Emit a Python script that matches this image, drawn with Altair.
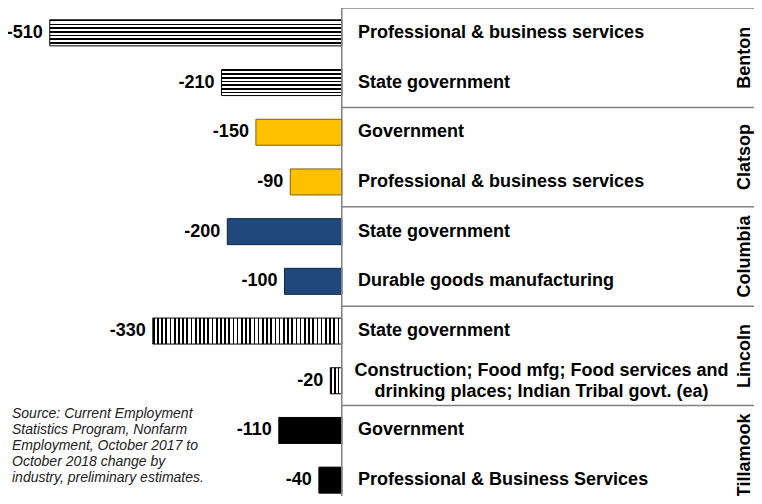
import altair as alt
import pandas as pd

counties = ["Benton", "Benton", "Clatsop", "Clatsop", "Columbia", "Columbia",
            "Lincoln", "Lincoln", "Tillamook", "Tillamook"]
industries = [
    "Professional & business services",
    "State government",
    "Government",
    "Professional & business services",
    "State government",
    "Durable goods manufacturing",
    "State government",
    "Construction; Food mfg; Food services and\ndrinking places; Indian Tribal govt. (ea)",
    "Government",
    "Professional & Business Services",
]
values = [-510, -210, -150, -90, -200, -100, -330, -20, -110, -40]
county_order = ["Benton", "Clatsop", "Columbia", "Lincoln", "Tillamook"]
source_text = ("Source: Current Employment\nStatistics Program, Nonfarm\n"
               "Employment, October 2017 to\nOctober 2018 change by\n"
               "industry, preliminary estimates.")

W, H = 746, 488
XDOM = [-583, 720]
PX_PER_UNIT = W / (XDOM[1] - XDOM[0])
ROW_PX = 49.7
FONT = "Liberation Sans"

df = pd.DataFrame({"county": counties, "industry": industries, "value": values})
df["pos"] = [i + 0.5 for i in range(len(df))]
df["label"] = [str(v) for v in values]
df["multi"] = [1 if "\n" in s else 0 for s in industries]

groups = pd.DataFrame({"county": county_order})
groups["center"] = [2 * i + 1 for i in range(len(county_order))]
groups["top"] = [2 * i for i in range(len(county_order))]
groups["base"] = 0

x_scale = alt.Scale(domain=XDOM, nice=False, padding=0, zero=False)
y_scale = alt.Scale(domain=[0, H / ROW_PX], reverse=True, nice=False, padding=0, zero=False)
X = alt.X("value:Q", scale=x_scale, axis=None)
Y = alt.Y("pos:Q", scale=y_scale, axis=None)


def stripes(n, horizontal, frac=0.42):
    stops = []
    for k in range(n):
        a = k / n
        b = (k + frac) / n
        c = (k + 1) / n
        stops += [{"offset": a, "color": "black"}, {"offset": b, "color": "black"},
                  {"offset": b, "color": "white"}, {"offset": c, "color": "white"}]
    g = {"gradient": "linear", "stops": stops}
    if horizontal:
        g.update({"x1": 0, "y1": 0, "x2": 0, "y2": 1})
    else:
        g.update({"x1": 0, "y1": 0, "x2": 1, "y2": 0})
    return g


base = alt.Chart(df)
bar_kw = dict(size=26, orient="horizontal", strokeWidth=1)

layers = []
layers.append(base.transform_filter("datum.county == 'Benton'").mark_bar(
    fill=stripes(7, True), stroke="black", **bar_kw).encode(x=X, y=Y))
layers.append(base.transform_filter("datum.county == 'Clatsop'").mark_bar(
    fill="#FFC000", stroke="#7F6000", **bar_kw).encode(x=X, y=Y))
layers.append(base.transform_filter("datum.county == 'Columbia'").mark_bar(
    fill="#1F497D", stroke="#10263F", **bar_kw).encode(x=X, y=Y))
for i, (c, v) in enumerate(zip(counties, values)):
    if c == "Lincoln":
        n = max(2, round(abs(v) * PX_PER_UNIT / 4.2))
        layers.append(base.transform_filter(f"datum.pos == {i + 0.5}").mark_bar(
            fill=stripes(n, False, 0.4), stroke="black", **bar_kw).encode(x=X, y=Y))
layers.append(base.transform_filter("datum.county == 'Tillamook'").mark_bar(
    fill="black", stroke="black", **bar_kw).encode(x=X, y=Y))

# separator lines
BX = alt.X("base:Q", scale=x_scale, axis=None)
layers.append(alt.Chart(groups).mark_rule(color="#808080", strokeWidth=1.5).encode(
    x=BX, x2=alt.value(W), y=alt.Y("top:Q", scale=y_scale, axis=None)))
layers.append(alt.Chart(groups).transform_filter("datum.top == 0").mark_rule(
    color="#808080", strokeWidth=1.5).encode(
    x=BX, y=alt.value(0), y2=alt.value(H)))

# value labels
layers.append(base.mark_text(align="right", baseline="middle", dx=-7, font=FONT,
                             fontSize=18, fontWeight="bold", color="black").encode(
    x=X, y=Y, text="label:N"))

# industry labels
layers.append(base.transform_filter("datum.multi == 0").mark_text(
    align="left", baseline="middle", font=FONT, fontSize=18, fontWeight="bold",
    color="black").encode(x=alt.value(350), y=Y, text="industry:N"))
layers.append(base.transform_filter("datum.multi == 1").mark_text(
    align="center", baseline="middle", font=FONT, fontSize=18, fontWeight="bold",
    color="black", lineBreak="\n", lineHeight=21, dy=-10).encode(
    x=alt.value(533.5), y=Y, text="industry:N"))

# county labels
layers.append(alt.Chart(groups).mark_text(
    angle=270, align="center", baseline="middle", font=FONT, fontSize=18,
    fontWeight="bold", color="black").encode(
    x=alt.value(737), y=alt.Y("center:Q", scale=y_scale, axis=None), text="county:N"))

# source note
layers.append(alt.Chart(pd.DataFrame({"t": [source_text]})).mark_text(
    align="left", baseline="middle", font=FONT, fontSize=14, fontStyle="italic",
    color="#222222", lineBreak="\n", lineHeight=16).encode(
    x=alt.value(4), y=alt.value(406), text="t:N"))

chart = alt.layer(*layers).properties(
    width=W, height=H, padding=0, autosize="none"
).configure_view(strokeWidth=0)

chart.save("out.html", embed_options={"renderer": "svg", "actions": False})
